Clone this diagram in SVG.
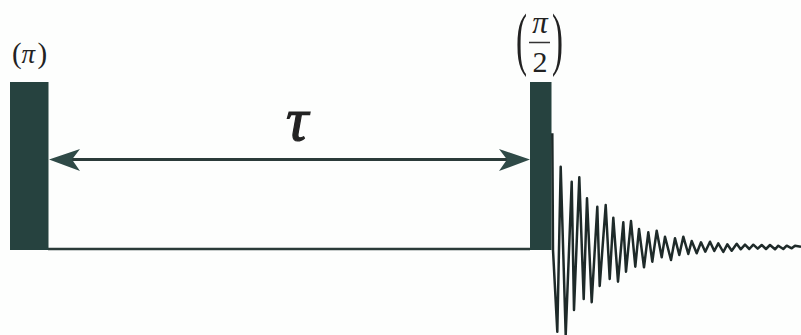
<svg xmlns="http://www.w3.org/2000/svg" width="801" height="335" viewBox="0 0 801 335">
<style>
.bar{fill:#26423f}
.line{stroke:#2b3b39;fill:none}
.head{fill:#2f4a47}
.t{font-family:"Liberation Serif","Times New Roman",serif;fill:#222}
</style>
<rect width="801" height="335" fill="#fdfefd"/>
<g id="connectors">
<line class="line" x1="48" y1="249" x2="530" y2="249" stroke-width="2.4"/>
<line class="line" x1="70" y1="159.5" x2="510" y2="159.5" stroke-width="3"/>
<path class="head" d="M49 159.5L80 149L72 159.5L80 171Z"/>
<path class="head" d="M530 159.5L499 149L507 159.5L499 171Z"/>
</g>
<g id="pulse-pi">
<rect class="bar" x="10" y="82" width="38.500" height="168"/>
<text class="t" x="12" y="63" font-size="29">(</text>
<text class="t" x="21.500" y="63" font-size="27" font-style="italic">π</text>
<text class="t" x="37.500" y="63" font-size="29">)</text>
</g>
<g id="pulse-pi-2">
<rect class="bar" x="530" y="82" width="21.500" height="168"/>
<text class="t" transform="translate(516 62) scale(1.100 2.350)" font-size="30">(</text>
<text class="t" transform="translate(552 62) scale(1.100 2.350)" font-size="30">)</text>
<text class="t" x="540" y="33" font-size="31" font-style="italic" text-anchor="middle">π</text>
<line x1="529" y1="42.500" x2="550" y2="42.500" stroke="#333" stroke-width="1.500"/>
<text class="t" x="540" y="72" font-size="30" text-anchor="middle">2</text>
</g>
<g id="tau">
<text class="t" x="297" y="140" font-size="62" font-style="italic" text-anchor="middle" stroke="#222" stroke-width="1.200">τ</text>
</g>
<g id="fid">
<path d="M552.300 133.300L553 250L557.300 331.700L560.700 166.700L565.700 335L571.700 181.700L574 310L579.300 177.300L583.700 299L587 198.300L591.700 302.300L597.300 206.700L599.700 286L605.700 205L609.700 279L613.300 217.700L618 281.700L623.300 222.300L626 271.700L631 221L635.300 266.700L639 229L644 267.300L648.300 232.300L652.300 261.700L656.700 230.700L661.700 257.300L665 236.700L671 260L675 238.300L679.300 255L683.300 236.700L688.300 254L691.700 241L696.700 253.300L701 242.300L705.300 251.700L710 241.700L714.300 251L718.300 243.300L723.300 252L727.300 244.300L731.700 250.700L736.700 243.700L740.700 249.300L745 244.700L749.300 249L753.300 244.700L757.700 248.700L761.700 245L766 249L770 245L775 249.300L778.300 245.700L783.300 249L786.700 245.700L791.700 248.300L795 245.700L801 246.700" fill="none" stroke="#1e2a29" stroke-width="2.500" stroke-linejoin="round"/>
</g>
</svg>
